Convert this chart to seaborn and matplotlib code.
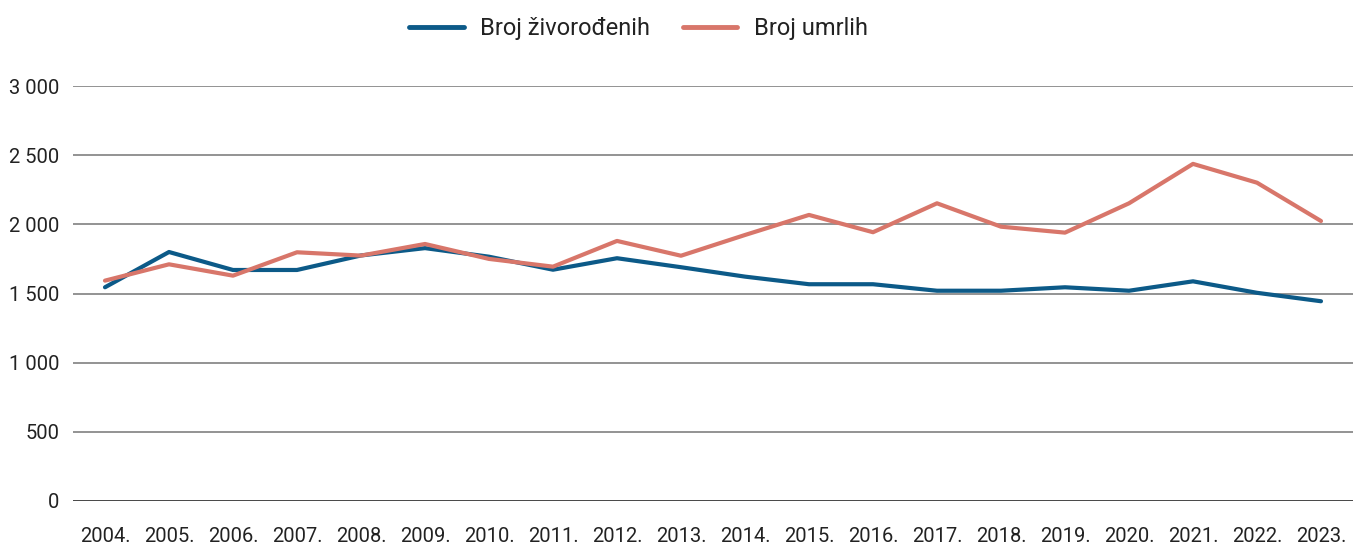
import matplotlib
matplotlib.use("Agg")
import matplotlib.pyplot as plt
import seaborn as sns
import pandas as pd
from matplotlib.ticker import FuncFormatter

years = [f"{y}." for y in range(2004, 2024)]
zivorodeni = [1545, 1800, 1670, 1670, 1775, 1828, 1766, 1672, 1755, 1690,
              1622, 1567, 1567, 1520, 1520, 1545, 1520, 1588, 1505, 1444]
umrli = [1593, 1711, 1629, 1798, 1774, 1858, 1750, 1694, 1880, 1773,
         1923, 2068, 1943, 2152, 1983, 1940, 2152, 2437, 2301, 2024]
series_names = ["Broj živorođenih", "Broj umrlih"]
colors = ["#0c5a88", "#d8766a"]

df = pd.concat([
    pd.DataFrame({"godina": years, "vrijednost": zivorodeni, "serija": series_names[0]}),
    pd.DataFrame({"godina": years, "vrijednost": umrli, "serija": series_names[1]}),
])

sns.set_style("white")
plt.rcParams['font.family'] = ['Roboto', 'DejaVu Sans']
plt.rcParams['text.color'] = '#222222'

fig = plt.figure(figsize=(13.53, 5.47), dpi=100)
ax = fig.add_axes([73 / 1353, (547 - 501) / 547, (1353 - 73) / 1353, (501 - 86) / 547])

sns.lineplot(data=df, x="godina", y="vrijednost", hue="serija", palette=colors,
             linewidth=3, ax=ax, sort=False, legend=False)

ax.set_ylim(0, 3000)
ax.set_xlim(-0.5, len(years) - 0.5)
ax.set_yticks(range(0, 3001, 500))
ax.yaxis.set_major_formatter(FuncFormatter(lambda v, p: f"{int(v):,}".replace(",", " ")))
ax.grid(axis='y', color='#8a8a8a', linewidth=1.3)
ax.grid(axis='x', visible=False)
ax.axhline(0, color='#444444', linewidth=1.3)
for s in ax.spines.values():
    s.set_visible(False)
ax.tick_params(axis='both', length=0, labelsize=14.5, labelcolor='#222222')
ax.tick_params(axis='y', pad=10)
ax.tick_params(axis='x', pad=19)
ax.set_xlabel("")
ax.set_ylabel("")

handles = [plt.Line2D([0], [0], color=c, lw=3.5, solid_capstyle='round') for c in colors]
fig.legend(handles, series_names, loc='upper center', bbox_to_anchor=(0.472, 1.008),
           ncol=2, frameon=False, fontsize=17, handlelength=2.3, columnspacing=1.4,
           handletextpad=0.7)

fig.savefig("out.png", dpi=100)
